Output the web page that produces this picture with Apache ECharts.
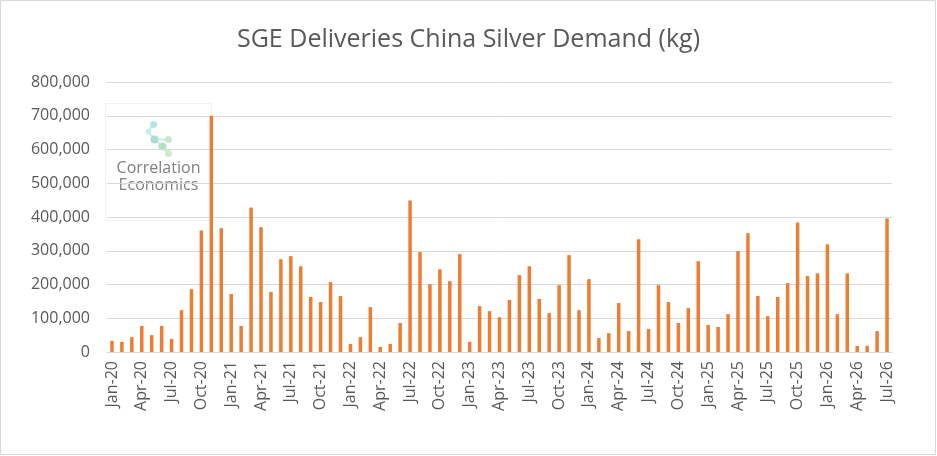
<!DOCTYPE html>
<html lang="en">
<head>
    <meta charset="UTF-8">
    <title>SGE Deliveries China Silver Demand</title>
    <script src="https://cdn.jsdelivr.net/npm/echarts@6/dist/echarts.min.js"></script>
    <style>
        html, body { margin: 0; padding: 0; background: #fff; }
        #chart { width: 937px; height: 456px; }
    </style>
</head>
<body>
<div id="chart"></div>
<script>
    // monthly labels Jan-20 .. Jul-26
    var months = ['Jan', 'Feb', 'Mar', 'Apr', 'May', 'Jun', 'Jul', 'Aug', 'Sep', 'Oct', 'Nov', 'Dec'];
    var years = ['20', '21', '22', '23', '24', '25', '26'];
    var categories = [];
    years.forEach(function (y) {
        months.forEach(function (m) {
            categories.push(m + '-' + y);
        });
    });
    categories = categories.slice(0, 79);

    // deliveries in kg
    var deliveries2020 = [33000, 30000, 44000, 77000, 50000, 77000, 39000, 124000, 186000, 360000, 700000, 367000];
    var deliveries2021 = [172000, 77000, 428000, 370000, 178000, 275000, 284000, 254000, 163000, 148000, 207000, 166000];
    var deliveries2022 = [24000, 44000, 133000, 15000, 24000, 86000, 449000, 296000, 201000, 245000, 210000, 290000];
    var deliveries2023 = [30000, 136000, 121000, 103000, 154000, 228000, 254000, 157000, 115000, 198000, 287000, 124000];
    var deliveries2024 = [216000, 41000, 56000, 145000, 62000, 334000, 68000, 198000, 148000, 86000, 130000, 269000];
    var deliveries2025 = [80000, 74000, 112000, 299000, 352000, 166000, 106000, 163000, 204000, 384000, 225000, 233000];
    var deliveries2026 = [319000, 112000, 233000, 18000, 18000, 62000, 396000];
    var deliveries = [].concat(deliveries2020, deliveries2021, deliveries2022,
        deliveries2023, deliveries2024, deliveries2025, deliveries2026);

    var textColor = '#595959';
    var lineColor = '#d9d9d9';

    var chart = echarts.init(document.getElementById('chart'), null, {renderer: 'canvas'});
    chart.setOption({
        animation: false,
        backgroundColor: '#fff',
        title: {
            text: 'SGE Deliveries China Silver Demand (kg)',
            left: 'center',
            top: 22,
            textStyle: {
                color: textColor,
                fontFamily: 'Open Sans',
                fontWeight: 'normal',
                fontSize: 25
            }
        },
        grid: {
            left: 107,
            right: 45,
            top: 82,
            bottom: 104
        },
        xAxis: {
            type: 'category',
            data: categories,
            axisLine: {lineStyle: {color: lineColor, width: 1}},
            axisTick: {
                interval: 2,
                length: 6,
                lineStyle: {color: lineColor, width: 1}
            },
            axisLabel: {
                interval: 2,
                rotate: 90,
                margin: 9,
                color: textColor,
                fontFamily: 'Open Sans',
                fontSize: 16
            }
        },
        yAxis: {
            type: 'value',
            min: 0,
            max: 800000,
            interval: 100000,
            axisLine: {show: false},
            axisTick: {show: false},
            splitLine: {lineStyle: {color: lineColor, width: 1}},
            axisLabel: {
                margin: 17,
                color: textColor,
                fontFamily: 'Open Sans',
                fontSize: 16,
                formatter: function (v) {
                    return v === 0 ? '0' : v.toLocaleString('en-US');
                }
            }
        },
        series: [{
            name: 'Deliveries',
            type: 'bar',
            data: deliveries,
            barWidth: 3.5,
            itemStyle: {color: '#ED7D31'}
        }],
        graphic: [
            // outer chart border
            {
                type: 'rect',
                shape: {x: 0.5, y: 0.5, width: 935, height: 454},
                style: {fill: 'none', stroke: lineColor, lineWidth: 1}
            },
            // Correlation Economics watermark
            {
                type: 'group',
                left: 105,
                top: 103,
                z: 100,
                children: [
                    {
                        type: 'rect',
                        shape: {x: 0, y: 0, width: 106, height: 117},
                        style: {fill: 'rgba(255,255,255,0.9)', stroke: '#f3f3ee', lineWidth: 1}
                    },
                    {type: 'line', shape: {x1: 48, y1: 20, x2: 43, y2: 28}, style: {stroke: '#cde9ee', lineWidth: 2}},
                    {type: 'line', shape: {x1: 43, y1: 28, x2: 49, y2: 36}, style: {stroke: '#cde9ee', lineWidth: 2}},
                    {type: 'line', shape: {x1: 49, y1: 36, x2: 63, y2: 36}, style: {stroke: '#cfe9dc', lineWidth: 2}},
                    {type: 'line', shape: {x1: 49, y1: 36, x2: 57, y2: 43}, style: {stroke: '#cfe9dc', lineWidth: 2}},
                    {type: 'line', shape: {x1: 57, y1: 43, x2: 62, y2: 50}, style: {stroke: '#d6ecd3', lineWidth: 2}},
                    {type: 'circle', shape: {cx: 48, cy: 21, r: 3.5}, style: {fill: '#b9e2ea'}},
                    {type: 'circle', shape: {cx: 43, cy: 28, r: 3}, style: {fill: '#cbeaf0'}},
                    {type: 'circle', shape: {cx: 49, cy: 36, r: 4}, style: {fill: '#a8dcd8'}},
                    {type: 'circle', shape: {cx: 63, cy: 36, r: 3.5}, style: {fill: '#c6e8d0'}},
                    {type: 'circle', shape: {cx: 57, cy: 43, r: 4}, style: {fill: '#b4e0c4'}},
                    {type: 'circle', shape: {cx: 63, cy: 50, r: 3.5}, style: {fill: '#cfead0'}},
                    {
                        type: 'text',
                        style: {
                            x: 53, y: 57, text: 'Correlation', align: 'center',
                            fill: '#7f7f7f', fontFamily: 'Open Sans', fontSize: 16, fontWeight: 500
                        }
                    },
                    {
                        type: 'text',
                        style: {
                            x: 53, y: 74, text: 'Economics', align: 'center',
                            fill: '#7f7f7f', fontFamily: 'Open Sans', fontSize: 16, fontWeight: 500
                        }
                    }
                ]
            }
        ]
    });
</script>
</body>
</html>
